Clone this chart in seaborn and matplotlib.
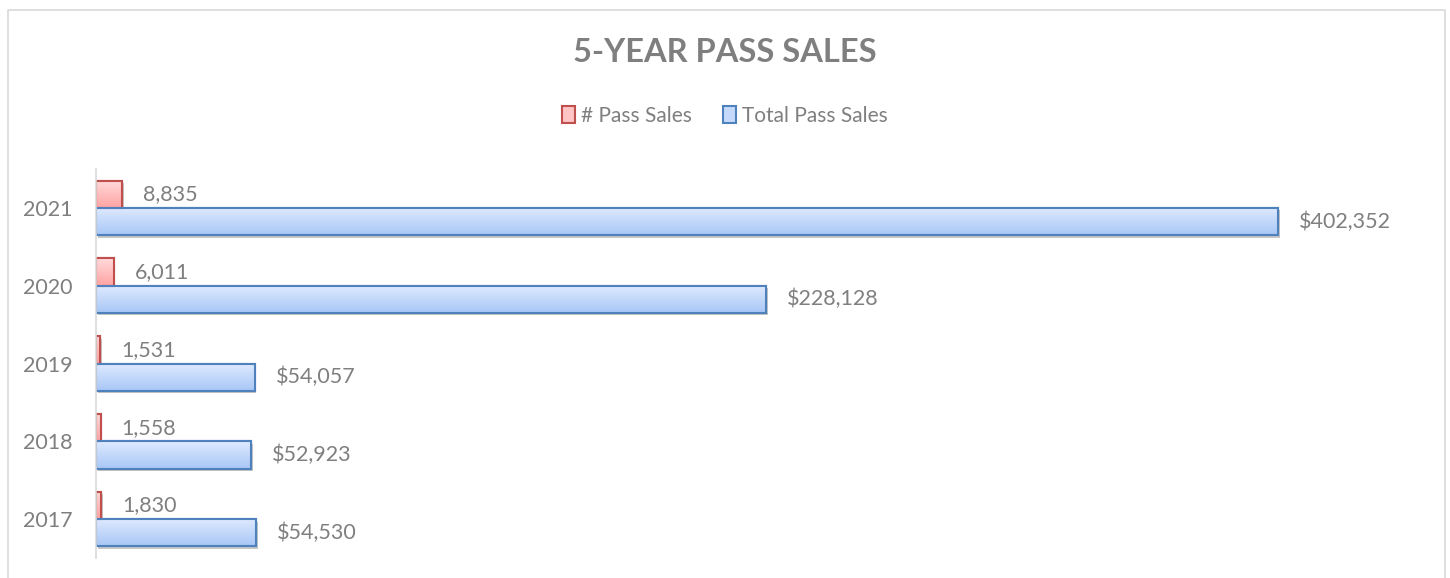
import numpy as np
import pandas as pd
import matplotlib
matplotlib.use("Agg")
import matplotlib.pyplot as plt
import matplotlib.patheffects as pe
from matplotlib.colors import LinearSegmentedColormap
from matplotlib.lines import Line2D
from matplotlib.patches import Patch
import seaborn as sns

# Data
years = ["2021", "2020", "2019", "2018", "2017"]
pass_count = [8835, 6011, 1531, 1558, 1830]
pass_total = [402352, 228128, 54057, 52923, 54530]
series = ["# Pass Sales", "Total Pass Sales"]

df = pd.DataFrame({
    "Year": years * 2,
    "Value": pass_count + pass_total,
    "Series": [series[0]] * len(years) + [series[1]] * len(years),
})

sns.set_theme(style="white")
plt.rcParams["font.family"] = ["Lato", "DejaVu Sans"]

gray = "#7f7f7f"
red_edge, blue_edge = "#c0504d", "#4f81bd"
# light at top, darker at bottom
red_grad = LinearSegmentedColormap.from_list("r", ["#ffdada", "#ffa3a3"])
blue_grad = LinearSegmentedColormap.from_list("b", ["#dfeaff", "#a8c7f6"])

fig = plt.figure(figsize=(14.5, 5.78), dpi=100)
ax = fig.add_axes([96 / 1450, 20 / 578, 1322 / 1450, 389 / 578])

sns.barplot(data=df, x="Value", y="Year", hue="Series", order=years,
            hue_order=series, orient="h", width=0.7,
            palette=["#ffc4c4", "#c5dafb"], ax=ax, legend=False)

ax.set_xlim(0, 450000)
ax.set_ylim(4.5, -0.5)

# gradient fill, border and shadow for each bar
for bars, cmap, edge in zip(ax.containers, [red_grad, blue_grad], [red_edge, blue_edge]):
    for p in bars:
        p.set_edgecolor(edge)
        p.set_linewidth(1.5)
        p.set_path_effects([pe.SimplePatchShadow(offset=(1.2, -1.8), shadow_rgbFace="#999999", alpha=0.55),
                            pe.Normal()])
        x0, y0 = p.get_x(), p.get_y()
        w, h = p.get_width(), p.get_height()
        grad = np.linspace(0, 1, 50).reshape(-1, 1)
        # y axis is inverted: y0 is the top edge on screen, first row goes there
        im = ax.imshow(grad, cmap=cmap, aspect="auto", extent=[x0, x0 + w, y0 + h, y0],
                       origin="upper", zorder=p.get_zorder() + 0.1)
        im.set_clip_path(p)
        ax.add_patch(plt.Rectangle((x0, y0), w, h, fill=False, edgecolor=edge,
                                   linewidth=1.5, zorder=p.get_zorder() + 0.2))

ax.set_xlim(0, 450000)
ax.set_ylim(4.5, -0.5)

ax.bar_label(ax.containers[0], labels=[f"{v:,}" for v in pass_count],
             padding=15, fontsize=15.5, color=gray)
ax.bar_label(ax.containers[1], labels=[f"${v:,}" for v in pass_total],
             padding=15, fontsize=15.5, color=gray)

ax.set_xlabel("")
ax.set_ylabel("")
ax.set_xticks([])
ax.tick_params(axis="y", labelsize=15.5, labelcolor=gray, length=0, pad=17)
for s in ["top", "right", "bottom"]:
    ax.spines[s].set_visible(False)
ax.spines["left"].set_color("#d9d9d9")
ax.spines["left"].set_linewidth(1.2)

fig.text(0.5, 1 - 53 / 578, "5-YEAR PASS SALES", ha="center", va="center",
         fontsize=23.5, fontweight="bold", color=gray)

handles = [Patch(facecolor="#ffc4c4", edgecolor=red_edge, linewidth=1.5),
           Patch(facecolor="#c5dafb", edgecolor=blue_edge, linewidth=1.5)]
fig.legend(handles, series, loc="center", bbox_to_anchor=(0.5, 1 - 116 / 578),
           ncol=2, frameon=False, fontsize=15, labelcolor=gray,
           handlelength=0.6, handleheight=0.9, handletextpad=0.3, columnspacing=1.5)

# chart border
fig.add_artist(Line2D([8 / 1450, 8 / 1450, 1445 / 1450, 1445 / 1450],
                      [0, 1 - 10 / 578, 1 - 10 / 578, 0],
                      transform=fig.transFigure, color="#d9d9d9", linewidth=1.2))

fig.savefig("out.png", dpi=100)
